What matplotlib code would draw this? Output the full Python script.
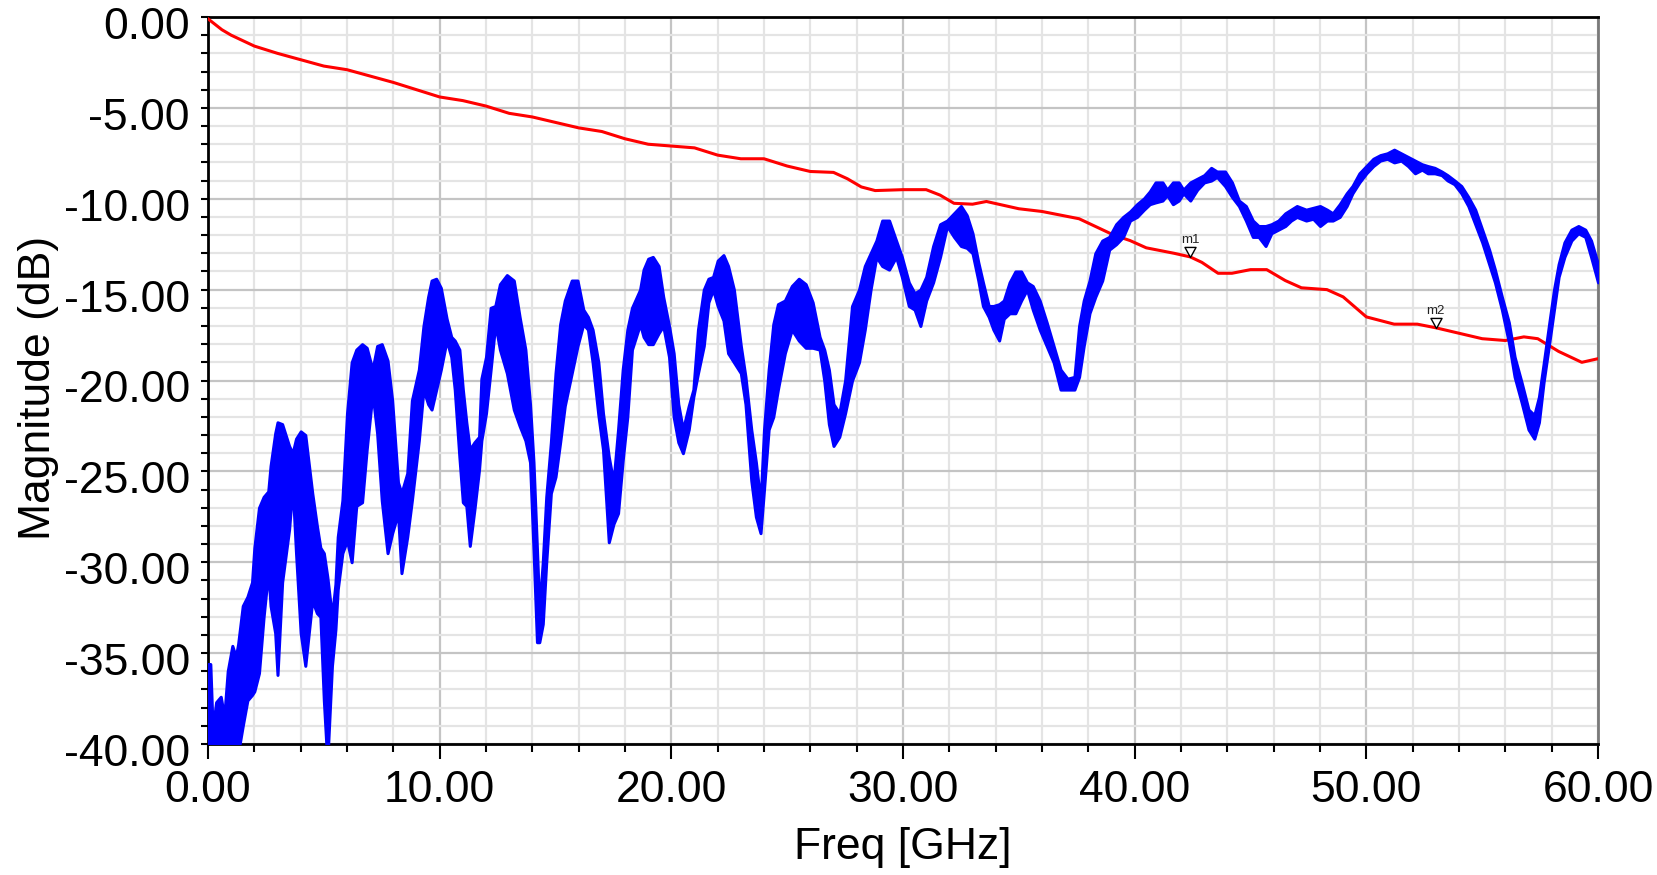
import matplotlib
matplotlib.use("Agg")
import matplotlib.pyplot as plt
from matplotlib.path import Path
from matplotlib.ticker import MultipleLocator
from matplotlib.transforms import ScaledTranslation

# ---------------- data ----------------
red_freq = [0.0, 0.3, 0.6, 1.0, 1.5, 2.0, 3.0, 4.0, 5.0, 6.0, 7.0, 8.0, 9.0, 10.0,
            11.0, 12.0, 13.0, 14.0, 15.0, 16.0, 17.0, 18.0, 19.0, 20.0, 21.0,
            22.0, 23.0, 24.0, 25.0, 26.0, 27.0, 27.6, 28.2, 28.8, 30.0, 31.0,
            31.6, 32.2, 33.0, 33.6, 35.0, 36.0, 37.6, 39.1, 39.8, 40.5, 41.7,
            42.4, 42.9, 43.6, 44.2, 45.0, 45.7, 46.5, 47.2, 48.3, 49.0, 50.0,
            51.2, 52.2, 53.0, 54.0, 55.0, 56.0, 56.8, 57.4, 58.3, 59.3, 60.0]
red_db = [-0.1, -0.4, -0.7, -1.0, -1.3, -1.6, -2.0, -2.35, -2.7, -2.9, -3.25,
          -3.6, -4.0, -4.4, -4.6, -4.9, -5.3, -5.5, -5.8, -6.1, -6.3, -6.7,
          -7.0, -7.1, -7.2, -7.6, -7.8, -7.8, -8.2, -8.5, -8.55, -8.9, -9.35,
          -9.55, -9.5, -9.5, -9.8, -10.25, -10.3, -10.15, -10.55, -10.7, -11.1,
          -12.0, -12.3, -12.7, -13.0, -13.2, -13.5, -14.1, -14.1, -13.9, -13.9,
          -14.5, -14.9, -15.0, -15.4, -16.5, -16.9, -16.9, -17.1, -17.4, -17.7,
          -17.8, -17.6, -17.7, -18.4, -19.0, -18.8]

blue_freq = [0.0, 0.1, 0.2, 0.35, 0.55, 0.7, 0.85, 1.05, 1.2, 1.3, 1.5, 1.7, 1.9,
             2.0, 2.2, 2.4, 2.6, 2.7, 2.9, 3.0, 3.2, 3.5, 3.65, 3.8, 4.0, 4.2,
             4.5, 4.7, 4.85, 5.0, 5.15, 5.35, 5.5, 5.6, 5.8, 6.0, 6.2, 6.4, 6.65,
             6.85, 7.1, 7.3, 7.5, 7.75, 7.95, 8.2, 8.35, 8.6, 8.8, 9.1, 9.3, 9.5,
             9.65, 9.85, 10.05, 10.3, 10.5, 10.65, 10.85, 11.0, 11.15, 11.3, 11.5,
             11.7, 11.8, 12.0, 12.2, 12.4, 12.6, 12.9, 13.2, 13.45, 13.7, 13.9,
             14.05, 14.2, 14.3, 14.45, 14.6, 14.8, 15.0, 15.2, 15.4, 15.7, 15.95,
             16.2, 16.4, 16.6, 16.85, 17.05, 17.3, 17.5, 17.7, 17.9, 18.1, 18.3,
             18.65, 18.8, 19.0, 19.2, 19.45, 19.65, 19.9, 20.1, 20.3, 20.5, 20.75,
             20.95, 21.15, 21.4, 21.6, 21.8, 22.0, 22.25, 22.45, 22.7, 23.0, 23.2,
             23.45, 23.65, 23.85, 24.0, 24.2, 24.4, 24.6, 24.9, 25.2, 25.5, 25.8,
             26.1, 26.4, 26.6, 26.8, 27.0, 27.25, 27.5, 27.8, 28.1, 28.35, 28.6,
             28.85, 29.1, 29.4, 29.7, 29.95, 30.25, 30.5, 30.75, 31.0, 31.3, 31.6,
             31.9, 32.2, 32.5, 32.75, 33.0, 33.25, 33.45, 33.7, 33.9, 34.15, 34.35,
             34.6, 34.85, 35.1, 35.35, 35.6, 35.9, 36.2, 36.5, 36.8, 37.1, 37.4,
             37.6, 37.8, 38.05, 38.3, 38.6, 38.9, 39.2, 39.5, 39.8, 40.1, 40.4,
             40.65, 40.9, 41.2, 41.4, 41.65, 41.9, 42.1, 42.4, 42.7, 43.0, 43.3,
             43.55, 43.9, 44.2, 44.5, 44.8, 45.1, 45.35, 45.65, 45.9, 46.2, 46.5,
             46.75, 47.0, 47.4, 47.7, 48.0, 48.3, 48.55, 48.85, 49.15, 49.4, 49.7,
             50.0, 50.3, 50.6, 50.9, 51.2, 51.5, 51.8, 52.1, 52.4, 52.65, 52.95,
             53.25, 53.5, 53.8, 54.1, 54.4, 54.7, 55.0, 55.3, 55.55, 55.85, 56.15,
             56.4, 56.7, 57.0, 57.25, 57.45, 57.65, 57.9, 58.1, 58.3, 58.55, 58.85,
             59.15, 59.45, 59.7, 60.0]
blue_upper = [-35.6, -35.6, -39.2, -37.7, -37.4, -38.5, -36.0, -34.6, -35.2, -34.5,
              -32.4, -31.9, -31.1, -29.2, -27.0, -26.4, -26.1, -24.7, -22.9, -22.3,
              -22.4, -23.6, -24.0, -23.2, -22.8, -23.0, -26.2, -28.0, -29.2, -29.5,
              -30.8, -33.0, -31.2, -28.6, -26.6, -21.8, -19.0, -18.3, -18.0, -18.2,
              -19.4, -18.1, -18.0, -18.9, -21.1, -25.6, -26.2, -25.1, -21.1, -19.4,
              -17.0, -15.4, -14.5, -14.4, -14.9, -16.6, -17.6, -17.8, -18.3, -20.5,
              -22.3, -23.8, -23.4, -23.1, -19.9, -18.7, -16.0, -15.9, -14.7, -14.2,
              -14.5, -16.5, -18.3, -21.3, -24.5, -29.3, -32.6, -30.0, -26.4, -23.4,
              -19.6, -16.9, -15.6, -14.5, -14.5, -16.1, -16.5, -17.2, -19.0, -21.8,
              -24.2, -25.6, -22.7, -19.4, -17.2, -16.0, -15.0, -13.9, -13.3, -13.2,
              -13.7, -15.4, -17.0, -18.5, -21.3, -22.7, -21.4, -20.5, -17.2, -15.0,
              -14.4, -14.3, -13.4, -13.1, -13.7, -15.0, -18.1, -19.8, -22.7, -24.5,
              -26.7, -22.7, -19.4, -16.9, -15.8, -15.6, -14.8, -14.4, -14.7, -15.7,
              -17.6, -18.3, -19.4, -21.3, -21.8, -20.0, -15.9, -15.0, -13.7, -13.0,
              -12.3, -11.2, -11.2, -12.3, -13.2, -14.6, -15.2, -15.0, -14.3, -12.6,
              -11.4, -11.2, -10.8, -10.4, -10.9, -11.9, -13.5, -14.6, -15.9, -15.9,
              -15.8, -15.6, -14.6, -14.0, -14.0, -14.6, -14.8, -15.6, -16.8, -18.1,
              -19.4, -19.9, -19.8, -17.0, -15.6, -14.5, -13.0, -12.3, -12.1, -11.4,
              -11.0, -10.7, -10.3, -9.98, -9.6, -9.1, -9.1, -9.5, -9.1, -9.1, -9.5,
              -9.1, -8.9, -8.7, -8.3, -8.5, -8.5, -9.1, -10.1, -10.4, -11.2, -11.5,
              -11.5, -11.4, -11.2, -10.8, -10.6, -10.4, -10.6, -10.5, -10.4, -10.6,
              -10.8, -10.3, -9.7, -9.3, -8.6, -8.2, -7.8, -7.6, -7.5, -7.3, -7.5,
              -7.7, -7.9, -8.1, -8.2, -8.3, -8.5, -8.7, -8.99, -9.3, -9.9, -10.6,
              -11.7, -12.8, -13.9, -15.4, -16.8, -18.7, -20.1, -21.6, -21.9, -20.9,
              -19.1, -16.8, -15.0, -13.6, -12.4, -11.7, -11.5, -11.7, -12.3, -13.6]
blue_lower = [-41.0, -41.0, -41.0, -41.0, -41.0, -41.0, -41.0, -41.0, -41.0, -40.5,
              -39.0, -37.6, -37.3, -37.1, -36.1, -33.0, -30.5, -32.4, -33.9, -36.2,
              -31.1, -28.2, -25.8, -29.5, -33.9, -35.7, -32.1, -32.8, -33.0, -37.6,
              -41.0, -35.7, -33.7, -31.5, -29.5, -28.8, -30.0, -26.9, -26.7, -23.8,
              -20.7, -22.9, -26.6, -29.5, -28.4, -27.3, -30.6, -28.6, -26.6, -23.3,
              -20.5, -21.3, -21.6, -20.5, -19.4, -17.8, -18.7, -20.5, -24.2, -26.7,
              -26.9, -29.1, -27.1, -24.9, -23.3, -21.8, -19.4, -16.9, -18.3, -19.6,
              -21.6, -22.5, -23.3, -24.5, -29.3, -34.4, -34.4, -33.4, -30.0, -26.2,
              -25.3, -23.4, -21.4, -19.6, -18.1, -16.9, -17.2, -19.0, -21.9, -23.8,
              -28.9, -27.9, -27.3, -24.4, -22.0, -18.3, -16.9, -17.6, -18.0, -18.0,
              -17.4, -17.0, -18.7, -22.0, -23.4, -24.0, -22.7, -20.9, -19.6, -18.1,
              -15.7, -15.0, -15.9, -16.7, -18.5, -19.0, -19.6, -21.3, -25.5, -27.5,
              -28.4, -26.0, -22.7, -22.0, -20.5, -18.5, -17.2, -17.8, -18.2, -18.2,
              -18.3, -20.0, -22.4, -23.6, -23.1, -21.8, -20.0, -19.0, -17.2, -15.0,
              -13.2, -13.7, -13.9, -13.2, -14.3, -15.9, -16.1, -17.0, -15.6, -14.6,
              -13.2, -11.5, -12.1, -12.6, -12.7, -13.0, -14.5, -15.9, -16.5, -17.2,
              -17.8, -16.6, -16.3, -16.3, -15.6, -15.0, -16.1, -17.2, -18.1, -19.0,
              -20.5, -20.5, -20.5, -19.8, -18.1, -16.3, -15.4, -14.5, -12.8, -12.5,
              -12.1, -11.2, -11.0, -10.6, -10.3, -10.2, -10.1, -9.8, -10.3, -10.1,
              -9.7, -10.1, -9.5, -9.1, -9.0, -8.8, -9.3, -9.9, -10.4, -11.2, -12.1,
              -12.1, -12.6, -11.9, -11.7, -11.5, -11.2, -11.0, -11.2, -11.1, -11.5,
              -11.2, -11.2, -11.0, -10.4, -9.7, -9.1, -8.6, -8.2, -7.9, -7.8, -8.0,
              -7.9, -8.2, -8.6, -8.4, -8.6, -8.6, -8.7, -8.99, -9.2, -9.7, -10.4,
              -11.4, -12.4, -13.6, -14.6, -16.1, -17.9, -19.8, -21.2, -22.7, -23.2,
              -22.3, -20.1, -17.9, -16.1, -14.3, -13.2, -12.3, -11.9, -12.1, -13.2,
              -14.6]

marker_names = ["m1", "m2"]
marker_freq = [42.4, 53.0]
marker_db = [-13.2, -17.1]

x_ticks = [0, 10, 20, 30, 40, 50, 60]
x_tick_labels = ["0.00", "10.00", "20.00", "30.00", "40.00", "50.00", "60.00"]
y_ticks = [0, -5, -10, -15, -20, -25, -30, -35, -40]
y_tick_labels = ["0.00", "-5.00", "-10.00", "-15.00", "-20.00", "-25.00",
                 "-30.00", "-35.00", "-40.00"]

# ---------------- figure ----------------
plt.rcParams["font.family"] = ["Liberation Sans", "DejaVu Sans"]
fig = plt.figure(figsize=(16.57, 8.75), dpi=100)
ax = fig.add_axes([208 / 1657, 1 - 744 / 875, 1390 / 1657, 727 / 875])

ax.set_xlim(0, 60)
ax.set_ylim(-40, 0)

# grid
ax.xaxis.set_minor_locator(MultipleLocator(2))
ax.yaxis.set_minor_locator(MultipleLocator(1))
ax.set_xticks(x_ticks)
ax.set_xticklabels(x_tick_labels)
ax.set_yticks(y_ticks)
ax.set_yticklabels(y_tick_labels)
ax.grid(which="minor", color="#e4e4e4", linewidth=1.6, zorder=0)
ax.grid(which="major", color="#c4c4c4", linewidth=1.6, zorder=0)
ax.set_axisbelow(True)

ax.tick_params(axis="both", which="both", labelsize=32, colors="black",
               width=1.5)
ax.tick_params(axis="x", which="major", length=11, pad=8)
ax.tick_params(axis="x", which="minor", length=6)
ax.tick_params(axis="y", which="major", length=5, pad=8)
ax.tick_params(axis="y", which="minor", length=5)

# y tick labels sit a few pixels below their ticks in the reference
shift = ScaledTranslation(0, -6 / 100, fig.dpi_scale_trans)
for lab in ax.get_yticklabels():
    lab.set_transform(lab.get_transform() + shift)

for side in ["left", "bottom", "top"]:
    ax.spines[side].set_color("black")
    ax.spines[side].set_linewidth(2)
ax.spines["right"].set_color("#7a7a7a")
ax.spines["right"].set_linewidth(2)

# curves
ax.plot(red_freq, red_db, color="#ff0000", linewidth=2.2, zorder=3)
ax.fill_between(blue_freq, blue_lower, blue_upper, facecolor="#0000ff",
                edgecolor="#0000ff", linewidth=2.2, zorder=4)

# markers (downward open triangles with tip at the point)
tri = Path([(0, 0), (-0.55, 1.0), (0.55, 1.0), (0, 0)],
           [Path.MOVETO, Path.LINETO, Path.LINETO, Path.CLOSEPOLY])
for name, fx, fy in zip(marker_names, marker_freq, marker_db):
    ax.plot([fx], [fy], marker=tri, markersize=14.5, markerfacecolor="white",
            markeredgecolor="black", markeredgewidth=1.0, linestyle="none",
            zorder=6)
    ax.annotate(name, (fx, fy), xytext=(0, 8), textcoords="offset points",
                ha="center", va="bottom", fontsize=9.5, color="#222222",
                zorder=6)

ax.set_xlabel("Freq [GHz]", fontsize=32, labelpad=11)
ax.set_ylabel("Magnitude (dB)", fontsize=32)
ax.yaxis.set_label_coords(-0.107, 0.49)

fig.savefig("out.png", dpi=100)
